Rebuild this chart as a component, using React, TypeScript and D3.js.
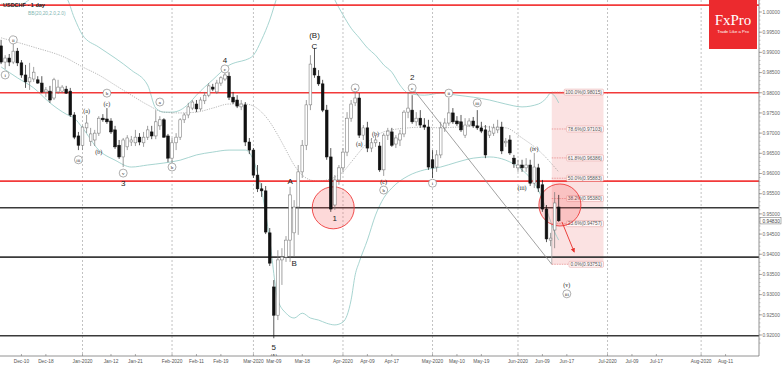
import React from "react";
import * as d3 from "d3";

const W = 782;
const H = 366;
const PLOT_RIGHT = 759;
const AXIS_Y = 356;

const firstDay = "2019-12-03";
const lastDay = "2020-08-31";
const holidays = ["2019-12-25", "2020-01-01"];

// daily candles [open, high, low, close], one per trading day from Dec 3 2019
const ohlc: [number, number, number, number][] = [
  [0.9916, 0.9931, 0.9871, 0.9876],
  [0.9876, 0.9893, 0.9859, 0.9886],
  [0.9886, 0.9896, 0.9866, 0.9876],
  [0.9876, 0.9921, 0.9871, 0.9903],
  [0.9903, 0.9911, 0.9866, 0.9874],
  [0.9874, 0.9881, 0.9837, 0.9844],
  [0.9844, 0.9869, 0.9812, 0.9827],
  [0.9827, 0.9874, 0.9807, 0.9837],
  [0.9834, 0.9864, 0.9827, 0.9851],
  [0.9832, 0.9841, 0.9822, 0.9824],
  [0.9824, 0.9841, 0.9799, 0.9802],
  [0.9802, 0.9814, 0.9789, 0.9807],
  [0.9804, 0.9817, 0.9775, 0.9782],
  [0.9787, 0.9837, 0.9782, 0.9832],
  [0.9802, 0.9832, 0.9797, 0.9814],
  [0.9804, 0.9819, 0.9799, 0.9814],
  [0.9809, 0.9817, 0.9797, 0.9799],
  [0.9804, 0.9812, 0.974, 0.9745],
  [0.9745, 0.9752, 0.9685, 0.969],
  [0.9693, 0.9703, 0.9658, 0.967],
  [0.967, 0.9718, 0.9658, 0.9715],
  [0.9713, 0.9745, 0.97, 0.9725],
  [0.968, 0.9713, 0.9668, 0.9698],
  [0.9683, 0.9708, 0.9668, 0.97],
  [0.97, 0.9742, 0.9693, 0.9737],
  [0.9737, 0.9747, 0.9728, 0.9733],
  [0.9735, 0.9762, 0.9723, 0.9728],
  [0.973, 0.9737, 0.9698, 0.9703],
  [0.9708, 0.9718, 0.9661, 0.9666],
  [0.967, 0.9683, 0.9636, 0.9641],
  [0.9641, 0.9688, 0.9616, 0.9683],
  [0.9666, 0.9695, 0.9658, 0.9688],
  [0.9678, 0.9693, 0.9668, 0.9683],
  [0.9676, 0.9708, 0.9668, 0.969],
  [0.969, 0.97, 0.967, 0.9678],
  [0.9676, 0.9703, 0.9666, 0.969],
  [0.969, 0.9718, 0.9683, 0.9708],
  [0.9703, 0.9718, 0.9685, 0.9693],
  [0.9693, 0.9757, 0.9685, 0.9728],
  [0.9718, 0.9742, 0.9708, 0.9733],
  [0.9733, 0.9737, 0.9688, 0.969],
  [0.9693, 0.9698, 0.9628, 0.9638],
  [0.9638, 0.9688, 0.9626, 0.9676],
  [0.9676, 0.97, 0.9658, 0.969],
  [0.969, 0.9737, 0.9683, 0.9733],
  [0.9733, 0.975, 0.9725, 0.9745],
  [0.9745, 0.9775, 0.9737, 0.9765],
  [0.9762, 0.9782, 0.9757, 0.9777],
  [0.9772, 0.9782, 0.9752, 0.976],
  [0.976, 0.9789, 0.9755, 0.9782],
  [0.978, 0.9802, 0.9772, 0.9794],
  [0.9794, 0.9824, 0.9789, 0.9817],
  [0.9814, 0.9822, 0.9804, 0.9809],
  [0.9802, 0.9832, 0.9797, 0.9824],
  [0.9824, 0.9841, 0.9817, 0.9837],
  [0.9834, 0.9851, 0.9829, 0.9844],
  [0.9841, 0.9851, 0.9782, 0.9789],
  [0.9789, 0.9802, 0.9772, 0.9777],
  [0.9782, 0.9794, 0.9762, 0.9767],
  [0.9765, 0.9782, 0.9757, 0.9772],
  [0.977, 0.9777, 0.9668, 0.9678],
  [0.9678, 0.9688, 0.9648, 0.9658],
  [0.9658, 0.9663, 0.9589, 0.9596],
  [0.9596, 0.9621, 0.9554, 0.9562],
  [0.9562, 0.9576, 0.9542, 0.9557],
  [0.9557, 0.9569, 0.945, 0.9455],
  [0.9453, 0.9465, 0.9371, 0.9378],
  [0.9319, 0.9336, 0.9192, 0.9249],
  [0.9249, 0.941, 0.9237, 0.9386],
  [0.9386, 0.9415, 0.9324, 0.9393],
  [0.9393, 0.9445, 0.9381, 0.9435],
  [0.9435, 0.9567, 0.9381, 0.9547],
  [0.9453, 0.9534, 0.9393, 0.9517],
  [0.9517, 0.9621, 0.9448, 0.9604],
  [0.9604, 0.9683, 0.9589, 0.967],
  [0.967, 0.9782, 0.9658, 0.977],
  [0.977, 0.9893, 0.9757, 0.9871],
  [0.9861, 0.9911, 0.9837, 0.9844],
  [0.9841, 0.9856, 0.9817, 0.9822],
  [0.9822, 0.9832, 0.9752, 0.9757],
  [0.9757, 0.977, 0.9634, 0.9641],
  [0.9641, 0.9663, 0.9505, 0.9512],
  [0.9522, 0.9596, 0.951, 0.9584],
  [0.9584, 0.9621, 0.9572, 0.9614],
  [0.9614, 0.9663, 0.9604, 0.9653],
  [0.9653, 0.9752, 0.9643, 0.9737],
  [0.9737, 0.9782, 0.9728, 0.9772],
  [0.9775, 0.9802, 0.9767, 0.9787],
  [0.9787, 0.9799, 0.9688, 0.9695],
  [0.9695, 0.972, 0.9683, 0.9713],
  [0.9713, 0.9728, 0.9653, 0.9663],
  [0.9663, 0.9688, 0.9653, 0.9676],
  [0.9676, 0.9693, 0.9666, 0.9683],
  [0.9668, 0.9678, 0.9604, 0.9609],
  [0.9609, 0.97, 0.9594, 0.9695],
  [0.9695, 0.9713, 0.9683, 0.9705],
  [0.9703, 0.9713, 0.9666, 0.967],
  [0.9673, 0.9695, 0.9663, 0.9688],
  [0.9683, 0.9708, 0.9668, 0.9698],
  [0.9698, 0.9757, 0.969, 0.9752],
  [0.9752, 0.9802, 0.9737, 0.9762],
  [0.9757, 0.9794, 0.9723, 0.9728],
  [0.9728, 0.9752, 0.9718, 0.9737],
  [0.9737, 0.9757, 0.9713, 0.972],
  [0.972, 0.9737, 0.9708, 0.9715],
  [0.9715, 0.9733, 0.9609, 0.9616],
  [0.9634, 0.9658, 0.9589, 0.9614],
  [0.9616, 0.9658, 0.9604, 0.9646],
  [0.9646, 0.9728, 0.9638, 0.9713],
  [0.9713, 0.9737, 0.9703, 0.9725],
  [0.9725, 0.9787, 0.9718, 0.975],
  [0.975, 0.9762, 0.9723, 0.9728],
  [0.973, 0.9742, 0.9718, 0.9723],
  [0.9728, 0.9745, 0.9703, 0.9708],
  [0.9695, 0.9737, 0.9688, 0.972],
  [0.972, 0.9737, 0.9715, 0.973],
  [0.973, 0.974, 0.9713, 0.9718],
  [0.9718, 0.9757, 0.9708, 0.9713],
  [0.9713, 0.9728, 0.97, 0.9705],
  [0.9708, 0.972, 0.9638, 0.9646],
  [0.9695, 0.9718, 0.9688, 0.9705],
  [0.97, 0.9723, 0.9693, 0.9713],
  [0.9708, 0.9733, 0.97, 0.9715],
  [0.9715, 0.9728, 0.9648, 0.9656],
  [0.9676, 0.9688, 0.9666, 0.968],
  [0.9683, 0.9695, 0.9646, 0.9651],
  [0.9638, 0.9646, 0.9614, 0.9624],
  [0.9614, 0.9634, 0.9604, 0.9621],
  [0.9621, 0.9634, 0.9604, 0.9614],
  [0.9614, 0.9638, 0.9604, 0.9621],
  [0.9621, 0.9634, 0.9569, 0.9576],
  [0.9576, 0.9651, 0.9564, 0.9616],
  [0.9614, 0.9624, 0.9554, 0.9564],
  [0.9572, 0.9584, 0.9505, 0.9512],
  [0.9512, 0.9522, 0.943, 0.9438],
  [0.9435, 0.9453, 0.942, 0.944],
  [0.946, 0.9554, 0.9415, 0.9527],
  [0.9517, 0.9547, 0.948, 0.9483],
];

// Bollinger band readings: [trading-day offset from first candle, price]
const bbUpper: [number, number][] = [
  [0, 1.002], [4, 1.0015], [8, 1.0037], [12, 1.005], [16, 1.0035], [18, 0.9985], [20, 0.9943],
  [24, 0.9913], [28, 0.9886], [32, 0.9856], [36, 0.9819], [38, 0.9762], [40, 0.9752], [42, 0.9752],
  [44, 0.9757], [46, 0.9772], [48, 0.9794], [50, 0.9814], [52, 0.9832], [54, 0.9851], [56, 0.9868],
  [58, 0.9876], [60, 0.9881], [62, 0.9893], [64, 0.9931], [66, 0.998], [68, 1.0042], [72, 1.0104],
  [76, 1.0129], [80, 1.0079], [82, 1.003], [84, 0.9993], [86, 0.996], [88, 0.9936], [90, 0.9911],
  [92, 0.9893], [94, 0.9869], [96, 0.9851], [98, 0.9819], [100, 0.9799], [104, 0.9794], [108, 0.9799],
  [112, 0.9794], [116, 0.9789], [120, 0.9782], [124, 0.9772], [128, 0.9765], [132, 0.9772],
  [134, 0.9787], [135, 0.9799], [136, 0.9792], [137, 0.9775],
];
const bbMid: [number, number][] = [
  [0, 0.9936], [8, 0.9913], [16, 0.9886], [20, 0.9864], [24, 0.9844], [28, 0.9819], [32, 0.9794],
  [36, 0.977], [40, 0.9752], [44, 0.975], [48, 0.9752], [52, 0.9762], [56, 0.9772], [60, 0.9772],
  [62, 0.9767], [64, 0.9752], [66, 0.9728], [68, 0.9695], [70, 0.9658], [72, 0.9621], [74, 0.9596],
  [76, 0.9584], [78, 0.9581], [80, 0.9584], [82, 0.9591], [84, 0.9604], [86, 0.9628], [88, 0.9653],
  [90, 0.9676], [92, 0.9693], [94, 0.9703], [96, 0.9708], [100, 0.9713], [104, 0.9715], [108, 0.9713],
  [112, 0.9715], [116, 0.9718], [120, 0.9715], [124, 0.9713], [128, 0.9688], [132, 0.9658], [137, 0.9604],
];
const bbLower: [number, number][] = [
  [0, 0.9864], [4, 0.9837], [8, 0.9812], [12, 0.9775], [16, 0.9747], [18, 0.9737], [20, 0.9713],
  [24, 0.9658], [28, 0.9633], [32, 0.9616], [36, 0.9621], [40, 0.9626], [44, 0.9633], [48, 0.9646],
  [52, 0.9653], [56, 0.9658], [60, 0.9658], [62, 0.9633], [64, 0.9559], [66, 0.9435], [68, 0.9287],
  [70, 0.9254], [72, 0.9242], [74, 0.9254], [76, 0.9242], [78, 0.9237], [80, 0.9229], [82, 0.9225],
  [84, 0.9232], [86, 0.9287], [87, 0.9349], [88, 0.9381], [90, 0.9435], [92, 0.9497], [94, 0.9539],
  [96, 0.9564], [100, 0.9594], [104, 0.9609], [108, 0.9616], [112, 0.9628], [116, 0.9638], [120, 0.9641],
  [124, 0.9633], [128, 0.9609], [132, 0.9559], [134, 0.951], [136, 0.9455], [137, 0.9435],
];

const redLevels = [1.0017, 0.98, 0.9581];
const blackLevels = [0.9515, 0.9393, 0.9198];

const fibHigh = 0.98015;
const fibLow = 0.93751;
const fibRatios = [1.0, 0.786, 0.618, 0.5, 0.382, 0.236, 0.0];
const fibSpan: [number, number] = [135.3, 148];

const trendLine: [number, number][] = [[101, 0.9812], [135.3, 0.93751]];
const arrowLine: [number, number][] = [[137.8, 0.948], [140.8, 0.9406]];
const highlightCircles: [number, number][] = [[81.6, 0.9515], [137.3, 0.9522]];

const priceTicks = d3.range(0.92, 1.0001, 0.005);
const lastPrice = 0.9483;

const dateTicks: [string, string][] = [
  ["Dec-10", "2019-12-10"], ["Dec-18", "2019-12-18"], ["Jan-2020", "2020-01-02"], ["Jan-12", "2020-01-12"],
  ["Jan-21", "2020-01-21"], ["Feb-2020", "2020-02-03"], ["Feb-11", "2020-02-11"], ["Feb-19", "2020-02-19"],
  ["Mar-2020", "2020-03-02"], ["Mar-09", "2020-03-09"], ["Mar-18", "2020-03-18"], ["Apr-2020", "2020-04-01"],
  ["Apr-09", "2020-04-09"], ["Apr-17", "2020-04-17"], ["May-2020", "2020-05-01"], ["May-10", "2020-05-10"],
  ["May-19", "2020-05-19"], ["Jun-2020", "2020-06-01"], ["Jun-09", "2020-06-09"], ["Jun-17", "2020-06-17"],
  ["Jul-2020", "2020-07-01"], ["Jul-09", "2020-07-09"], ["Jul-17", "2020-07-17"], ["Aug-2020", "2020-08-03"],
  ["Aug-11", "2020-08-11"],
];

// wave labels: [text, day offset, price, style]
const waveLabels: [string, number, number, string][] = [
  ["i", 1, 0.9844, "circ"], ["ii", 3, 0.9931, "circ"], ["iii", 19, 0.9634, "circ"],
  ["(a)", 21, 0.9755, "paren"], ["b", 26, 0.9799, "circ"], ["(c)", 26, 0.9772, "paren"],
  ["(b)", 24, 0.9653, "paren"], ["v", 30, 0.9601, "circ"], ["3", 30, 0.9576, "plain"],
  ["a", 39, 0.9777, "circ"], ["b", 42, 0.9616, "circ"], ["c", 55, 0.9859, "circ"], ["4", 55, 0.9881, "plain"],
  ["A", 71, 0.9581, "plain"], ["B", 72, 0.9378, "plain"], ["5", 67, 0.917, "plain"], ["(A)", 67, 0.9147, "small"],
  ["C", 77, 0.9916, "plain"], ["(B)", 77, 0.9943, "plain"], ["1", 82, 0.949, "plain"],
  ["a", 87, 0.9812, "circ"], ["(a)", 88, 0.9673, "paren"], ["(b)", 92, 0.9698, "paren"],
  ["(c)", 94, 0.9579, "paren"], ["b", 94, 0.9559, "circ"], ["2", 101, 0.9839, "plain"], ["c", 101, 0.9812, "circ"],
  ["i", 106, 0.9576, "circ"], ["ii", 110, 0.9799, "circ"], ["iii", 117, 0.9775, "circ"],
  ["(iii)", 128, 0.9564, "paren"], ["(iv)", 131, 0.9661, "paren"], ["(v)", 139, 0.9324, "paren"],
  ["iii", 139, 0.9302, "circ"],
];

function tradingDays(): string[] {
  const out: string[] = [];
  const d = new Date(firstDay + "T12:00:00Z");
  const end = new Date(lastDay + "T12:00:00Z");
  while (d <= end) {
    const wd = d.getUTCDay();
    const iso = d.toISOString().slice(0, 10);
    if (wd !== 0 && wd !== 6 && !holidays.includes(iso)) out.push(iso);
    d.setUTCDate(d.getUTCDate() + 1);
  }
  return out;
}

export default function App() {
  const days = tradingDays();
  const dayIndex = (iso: string) => {
    const i = days.findIndex((d) => d >= iso);
    return i < 0 ? days.length : i;
  };
  const x = d3.scaleLinear().domain([0, 100]).range([1.1, 408.1]);
  const y = d3.scaleLinear().domain([0.92, 1.0]).range([335, 12]);

  const line = d3
    .line<[number, number]>()
    .x((d) => x(d[0]))
    .y((d) => y(d[1]))
    .curve(d3.curveMonotoneX);

  const sans = "'Liberation Sans', Arial, sans-serif";
  const serif = "'Liberation Serif', 'DejaVu Serif', serif";
  const bw = 2.7;

  const monthTicks = dateTicks.filter((t) => t[0].endsWith("2020"));
  const fibY = (r: number) => y(fibLow + (fibHigh - fibLow) * r);

  return (
    <svg
      width={W}
      height={H}
      style={{ position: "absolute", left: 0, top: 0, background: "#fff" }}
      fontFamily={sans}
    >
      <defs>
        <clipPath id="plot">
          <rect x={0} y={0} width={PLOT_RIGHT} height={AXIS_Y} />
        </clipPath>
        <marker id="arrowHead" viewBox="0 0 10 10" refX="8" refY="5" markerWidth="5" markerHeight="5" orient="auto">
          <path d="M0,0 L10,5 L0,10 z" fill="#e8302a" />
        </marker>
      </defs>

      <g clipPath="url(#plot)">
        {monthTicks.map((t) => (
          <line
            key={t[0]}
            x1={x(dayIndex(t[1]))}
            x2={x(dayIndex(t[1]))}
            y1={0}
            y2={AXIS_Y}
            stroke="#a8a8a8"
            strokeWidth={0.7}
            strokeDasharray="2,2"
          />
        ))}

        <rect
          x={x(fibSpan[0])}
          y={fibY(1)}
          width={x(fibSpan[1]) - x(fibSpan[0])}
          height={fibY(0) - fibY(1)}
          fill="rgba(242,150,150,0.28)"
        />

        <path d={line(bbUpper) || ""} fill="none" stroke="#9dcfcb" strokeWidth={0.9} />
        <path d={line(bbLower) || ""} fill="none" stroke="#9dcfcb" strokeWidth={0.9} />
        <path d={line(bbMid) || ""} fill="none" stroke="#9a9a9a" strokeWidth={0.7} strokeDasharray="1.2,1.2" />

        {redLevels.map((v) => (
          <line key={"r" + v} x1={0} x2={PLOT_RIGHT} y1={y(v)} y2={y(v)} stroke="#f23a3a" strokeWidth={1.6} />
        ))}
        {blackLevels.map((v) => (
          <line key={"k" + v} x1={0} x2={PLOT_RIGHT} y1={y(v)} y2={y(v)} stroke="#3a3a3a" strokeWidth={1.6} />
        ))}

        <line
          x1={x(trendLine[0][0])}
          y1={y(trendLine[0][1])}
          x2={x(trendLine[1][0])}
          y2={y(trendLine[1][1])}
          stroke="#8a8a8a"
          strokeWidth={0.8}
        />
        <line x1={x(fibSpan[0])} x2={x(fibSpan[0])} y1={fibY(0)} y2={fibY(0.23)} stroke="#999" strokeWidth={0.7} />

        {fibRatios.map((r) => {
          const v = fibLow + (fibHigh - fibLow) * r;
          const label = (r * 100).toFixed(1) + "%(" + v.toFixed(5) + ")";
          const right = x(fibSpan[1]);
          const tw = label.length * 2.42 + 3;
          return (
            <g key={"f" + r}>
              <line
                x1={x(fibSpan[0])}
                x2={right - tw}
                y1={fibY(r)}
                y2={fibY(r)}
                stroke="#e07070"
                strokeWidth={0.6}
                strokeDasharray="1.5,1"
              />
              <rect x={right - tw} y={fibY(r) - 3} width={tw} height={6} fill="#fff6f6" stroke="#e29a9a" strokeWidth={0.5} rx={1} />
              <text x={right - 1.5} y={fibY(r) + 1.8} fontSize={4.8} textAnchor="end" fill="#555">
                {label}
              </text>
            </g>
          );
        })}

        {highlightCircles.map((c, i) => (
          <circle key={"c" + i} cx={x(c[0])} cy={y(c[1])} r={21} fill="rgba(245,80,80,0.22)" stroke="#ee3a3a" strokeWidth={0.9} />
        ))}

        {ohlc.map((c, i) => {
          const [o, h, l, cl] = c;
          const cx = x(i);
          const up = cl >= o;
          const top = y(Math.max(o, cl));
          const bot = y(Math.min(o, cl));
          return (
            <g key={"k" + i}>
              <line x1={cx} x2={cx} y1={y(h)} y2={y(l)} stroke={up ? "#777" : "#111"} strokeWidth={0.7} />
              <rect
                x={cx - bw / 2}
                y={top}
                width={bw}
                height={Math.max(0.8, bot - top)}
                fill={up ? "#fff" : "#111"}
                stroke={up ? "#777" : "#111"}
                strokeWidth={0.55}
              />
            </g>
          );
        })}

        <line
          x1={x(arrowLine[0][0])}
          y1={y(arrowLine[0][1])}
          x2={x(arrowLine[1][0])}
          y2={y(arrowLine[1][1])}
          stroke="#e8302a"
          strokeWidth={0.9}
          markerEnd="url(#arrowHead)"
        />

        {waveLabels.map((w, i) => {
          const [t, d, p, s] = w;
          const cx = x(d);
          const cy = y(p);
          if (s === "circ") {
            return (
              <g key={"w" + i}>
                <circle cx={cx} cy={cy} r={4} fill="#fff" stroke="#777" strokeWidth={0.6} />
                <text x={cx} y={cy + 1.8} fontSize={5} fontFamily={serif} textAnchor="middle" fill="#222">
                  {t}
                </text>
              </g>
            );
          }
          if (s === "paren") {
            return (
              <text key={"w" + i} x={cx} y={cy + 2} fontSize={6} fontFamily={serif} textAnchor="middle" fill="#222">
                {t}
              </text>
            );
          }
          if (s === "small") {
            return (
              <text key={"w" + i} x={cx} y={cy + 2} fontSize={5} textAnchor="middle" fill="#222">
                {t}
              </text>
            );
          }
          return (
            <text key={"w" + i} x={cx} y={cy + 3} fontSize={8} textAnchor="middle" fill="#222">
              {t}
            </text>
          );
        })}
      </g>

      <text x={3} y={7} fontSize={5.5} fontWeight="bold" fill="#222">
        USDCHF - 1 day
      </text>
      <text x={28} y={14.5} fontSize={4.8} fill="#7fb6b2">
        BB(20,20,2.0,2.0)
      </text>

      <rect x={709} y={0} width={48} height={49} fill="#ec2a2e" />
      <text x={733} y={25} fontSize={15} fontFamily={serif} textAnchor="middle" fill="#fff">
        FxPro
      </text>
      <text x={733} y={32.5} fontSize={4.3} textAnchor="middle" fill="#fff">
        Trade Like a Pro
      </text>

      <line x1={PLOT_RIGHT} x2={PLOT_RIGHT} y1={0} y2={AXIS_Y} stroke="#777" strokeWidth={0.8} />
      {d3.range(0.918, 1.0035, 0.001).map((v, i) => (
        <line key={"m" + i} x1={PLOT_RIGHT} x2={PLOT_RIGHT + 1.5} y1={y(v)} y2={y(v)} stroke="#888" strokeWidth={0.5} />
      ))}
      {priceTicks.map((v) => (
        <g key={"p" + v}>
          <line x1={PLOT_RIGHT} x2={PLOT_RIGHT + 3} y1={y(v)} y2={y(v)} stroke="#777" strokeWidth={0.6} />
          <text x={PLOT_RIGHT + 3.5} y={y(v) + 1.8} fontSize={4.8} fill="#666">
            {v.toFixed(5)}
          </text>
        </g>
      ))}
      <rect x={PLOT_RIGHT + 1} y={y(lastPrice) - 3.2} width={21} height={6.4} fill="#fff" stroke="#666" strokeWidth={0.5} />
      <text x={PLOT_RIGHT + 3.5} y={y(lastPrice) + 1.8} fontSize={4.8} fill="#444">
        {lastPrice.toFixed(5)}
      </text>

      <line x1={0} x2={PLOT_RIGHT} y1={AXIS_Y} y2={AXIS_Y} stroke="#777" strokeWidth={0.8} />
      {dateTicks.map((t) => {
        const px = x(dayIndex(t[1]));
        return (
          <g key={"d" + t[0]}>
            <line x1={px} x2={px} y1={AXIS_Y - 2} y2={AXIS_Y} stroke="#777" strokeWidth={0.6} />
            <text x={px} y={AXIS_Y + 7} fontSize={4.8} textAnchor="middle" fill="#555">
              {t[0]}
            </text>
          </g>
        );
      })}
    </svg>
  );
}
